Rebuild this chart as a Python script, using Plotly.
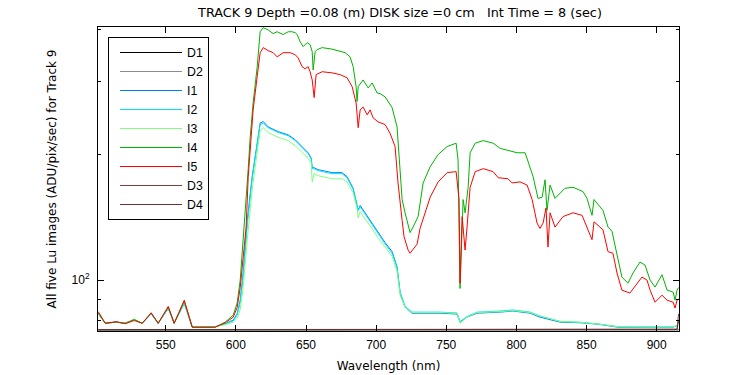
import math
import plotly.graph_objects as go

# ---------------- data ----------------
wl_dark = [501.9, 530, 560, 600, 640, 680, 720, 760, 800, 840, 880, 910, 914.5, 915.6]
D1 = [75.9, 75.9, 75.9, 75.9, 75.9, 75.9, 75.9, 75.9, 75.9, 75.9, 75.9, 75.9, 75.9, 76.0]
D2 = [76.0, 76.0, 76.0, 76.0, 76.0, 76.0, 76.0, 76.0, 76.0, 76.0, 76.0, 76.0, 76.0, 76.2]
D3 = [76.1, 76.1, 76.1, 76.1, 76.1, 76.1, 76.1, 76.1, 76.1, 76.1, 76.1, 76.1, 76.2, 83.0]
D4 = [76.1, 76.1, 76.1, 76.1, 76.1, 76.1, 76.1, 76.1, 76.1, 76.1, 76.1, 76.1, 76.2, 80.0]

wl_lo = [501.9, 506.9, 514.7, 521.1, 527.5, 533.2, 539.6, 544.6, 551.8, 556.0,
         563.2, 568.9, 585.2, 592.4, 598.1, 600.9, 603.1, 605.2, 608.1, 611.6,
         615.2, 617.3, 619.5, 623.0, 630.1, 637.3, 642.3, 647.2, 651.5, 653.7,
         654.4, 655.8, 658.6, 668.6, 675.7, 679.3, 683.6, 686.4, 687.2, 688.6,
         692.1, 697.1, 701.4, 706.4, 711.4, 714.9, 717.1, 720.6, 725.6, 734.9,
         745.6, 757.7, 759.8, 764.8, 772.0, 788.4, 797.6, 809.8, 816.8, 831.1,
         846.0, 858.0, 872.4, 900.0, 911.7, 915.2]
I1 = [83.0, 78.8, 79.3, 78.8, 80.4, 78.8, 83.0, 78.8, 85.5, 78.8,
      88.0, 77.1, 77.3, 78.6, 80.2, 83.0, 89.5, 104, 139, 177,
      213, 238, 240, 233, 227, 223, 217, 209, 202, 196,
      186, 186, 184, 181, 181, 177, 166, 151, 147, 151,
      145, 137, 130, 123, 117, 107.5, 93.1, 86.1, 83.3, 83.3,
      83.3, 82.9, 79.3, 81.5, 83.3, 83.8, 84.3, 83.3, 81.5, 79.3,
      79.0, 78.4, 77.1, 77.1, 77.1, 78.0]
I2 = [83.0, 78.8, 79.3, 78.8, 80.4, 78.8, 83.0, 78.8, 85.5, 78.8,
      88.0, 77.1, 77.3, 78.4, 79.8, 82.5, 88.5, 102, 136, 175,
      212, 236, 238, 232, 226, 222, 216, 208, 201, 195,
      185, 185, 183, 180, 180, 176, 165, 151, 147, 150,
      144, 136, 129, 122, 116, 107, 93.5, 86.5, 83.8, 83.8,
      83.8, 83.4, 79.5, 81.8, 83.8, 84.3, 84.8, 83.8, 82.0, 79.6,
      79.2, 78.5, 77.3, 77.2, 77.2, 78.0]
I3 = [83.0, 78.8, 79.3, 78.8, 80.6, 78.8, 83.2, 78.8, 85.8, 78.8,
      88.5, 77.1, 77.3, 78.2, 79.3, 81.0, 85.0, 96, 125, 165,
      203, 228, 232, 226, 220, 216, 210, 203, 196, 191,
      172, 180, 178, 175, 175, 172, 162, 148, 141, 146,
      140, 133, 126, 120, 114, 105, 92.0, 86.0, 83.6, 83.6,
      83.6, 83.2, 78.8, 81.6, 83.6, 84.0, 84.5, 83.6, 82.0, 79.6,
      79.2, 78.5, 77.3, 77.2, 77.2, 78.0]

wl_I4 = [501.9, 506.9, 514.7, 521.1, 527.5, 533.2, 539.6, 544.6, 551.8, 556.0,
         563.2, 568.9, 585.2, 592.4, 598.1, 600.9, 603.1, 605.2, 607.3, 608.8,
         610.2, 612.3, 615.2, 617.3, 619.5, 623.0, 626.6, 629.4, 633.7, 637.3,
         640.1, 642.3, 643.7, 645.8, 648.0, 650.8, 652.9, 654.4, 655.1, 656.5,
         657.9, 661.5, 668.6, 672.9, 677.9, 681.4, 683.6, 685.7, 686.4, 687.2,
         690.7, 694.3, 697.1, 700.7, 702.8, 706.4, 711.4, 714.9, 716.4, 718.5,
         720.6, 724.2, 726.3, 729.9, 733.5, 738.5, 744.2, 750.6, 757.0, 758.4,
         759.8, 761.3, 762.0, 763.4, 765.6, 767.0, 770.6, 776.3, 783.4, 788.4,
         794.0, 800.5, 806.2, 808.4, 811.9, 815.4, 818.3, 820.4, 821.8, 824.0,
         827.5, 834.6, 840.3, 847.5, 850.3, 853.9, 855.3, 861.7, 865.3, 868.1,
         871.7, 875.2, 879.5, 883.1, 888.1, 891.7, 895.3, 898.8, 903.8, 907.4,
         911.7, 913.1, 914.5, 915.6]
I4 = [83.3, 78.8, 79.3, 78.8, 80.4, 78.8, 83.3, 78.8, 86.1, 78.8,
      89.0, 77.1, 77.1, 79.3, 82.4, 88.1, 100, 125, 152, 185,
      220, 266, 325, 394, 403, 398, 390, 394, 388, 394,
      394, 392, 388, 373, 363, 371, 367, 353, 319, 353,
      357, 361, 358, 355, 351, 343, 325, 291, 268, 291,
      302, 289, 297, 281, 280, 275, 259, 233, 197, 156,
      145, 130, 134, 142, 171, 187, 200, 209, 213, 194,
      95.5, 125, 156, 145, 167, 202, 213, 216, 213, 207,
      205, 202, 202, 192, 177, 157, 158, 174, 147, 169,
      157, 166, 167, 163, 157, 143, 156, 147, 134, 131,
      114, 101.7, 98.3, 104, 110.5, 108.6, 100, 96.2, 103, 94.6,
      93.6, 89.5, 94.6, 96]

wl_I5 = [501.9, 506.9, 514.7, 521.1, 527.5, 533.2, 539.6, 544.6, 551.8, 556.0,
         563.2, 568.9, 585.2, 592.4, 598.1, 600.9, 603.1, 605.2, 607.3, 608.8,
         610.9, 612.3, 615.2, 617.3, 619.5, 623.0, 626.6, 629.4, 633.7, 638.7,
         642.3, 644.4, 647.2, 649.4, 651.5, 652.9, 654.4, 655.8, 657.2, 661.5,
         668.6, 674.3, 679.3, 682.9, 685.7, 687.2, 688.6, 690.7, 693.6, 695.7,
         697.8, 701.4, 706.4, 709.9, 713.5, 715.6, 718.5, 719.9, 722.8, 724.2,
         729.2, 731.3, 738.5, 744.2, 750.6, 757.0, 759.1, 759.8, 761.3, 763.4,
         764.8, 767.0, 770.6, 776.3, 783.4, 787.0, 794.0, 796.9, 802.6, 807.6,
         811.2, 814.7, 816.8, 819.0, 821.1, 822.5, 824.0, 827.5, 833.2, 840.3,
         846.8, 848.9, 853.9, 855.3, 861.7, 865.3, 868.8, 871.7, 875.2, 880.9,
         886.0, 889.5, 893.1, 895.3, 898.8, 903.8, 907.4, 911.7, 913.1, 914.5,
         915.6]
I5 = [84.0, 78.8, 79.5, 78.6, 80.0, 78.8, 83.5, 78.8, 86.5, 78.8,
      89.5, 77.1, 77.1, 79.0, 81.5, 86.0, 96, 112, 134, 177,
      220, 256, 308, 351, 361, 355, 351, 343, 351, 351,
      347, 341, 325, 321, 325, 316, 302, 274, 311, 316,
      314, 311, 305.5, 291, 266, 232, 256, 260, 249, 256,
      245, 239.5, 236, 225, 209, 171, 139, 127, 118, 116,
      122, 133, 158, 172, 181, 182, 156, 98.3, 142, 118,
      134, 167, 182, 185, 182, 176, 175, 171, 172, 169,
      156, 137, 133, 137, 149, 120, 145, 134, 142, 145,
      143, 137, 125, 138, 132, 117, 116, 104, 94.6, 93.1,
      98.3, 101.7, 100, 94.6, 88.5, 92.0, 89.5, 88.5, 85.7, 89.5,
      90]

x_ticks = [550, 600, 650, 700, 750, 800, 850, 900]
y_major = [100]
y_major_text = ["10<sup>2</sup>"]
y_minor = [80, 90, 200, 300, 400]

# ---------------- figure ----------------
series = [
    ("D1", wl_dark, D1, "#000000"),
    ("D2", wl_dark, D2, "#8c8c8c"),
    ("I1", wl_lo, I1, "#0080ff"),
    ("I2", wl_lo, I2, "#00e6f0"),
    ("I3", wl_lo, I3, "#80ff80"),
    ("I4", wl_I4, I4, "#00b400"),
    ("I5", wl_I5, I5, "#ff0000"),
    ("D3", wl_dark, D3, "#804040"),
    ("D4", wl_dark, D4, "#663333"),
]

fig = go.Figure()
for name, xs, ys, col in series:
    fig.add_trace(go.Scatter(x=xs, y=ys, mode="lines", name=name,
                             line=dict(color=col, width=1)))

SANS = "Liberation Sans, Arial, Helvetica, sans-serif"
WIDE = "DejaVu Sans, Verdana, sans-serif"
fig.update_layout(
    width=750, height=375,
    margin=dict(l=98, r=71, t=27, b=44, autoexpand=False),
    paper_bgcolor="white", plot_bgcolor="white",
    font=dict(family=SANS, size=12, color="black"),
    title=dict(text="TRACK 9 Depth =0.08 (m) DISK size =0 cm\u00a0\u00a0\u00a0Int Time = 8 (sec)",
               x=400 / 750, xref="container", xanchor="center",
               y=1 - 13 / 375, yref="container", yanchor="middle",
               font=dict(family=WIDE, size=12.8, color="black")),
    showlegend=True,
    legend=dict(x=(108 - 98) / 581, y=(331 - 37) / 304, xanchor="left", yanchor="top",
                bgcolor="white", bordercolor="black", borderwidth=1,
                font=dict(family=SANS, size=12.3, color="black"),
                itemwidth=62, indentation=6, tracegroupgap=0),
)
fig.update_xaxes(
    range=[501.7, 915.9], tickmode="array", tickvals=x_ticks,
    showline=True, linecolor="black", linewidth=1, mirror="ticks",
    ticks="inside", ticklen=6, tickcolor="black", tickwidth=1,
    ticklabelstandoff=3, automargin=False,
    showgrid=False, zeroline=False,
    title=dict(text="Wavelength (nm)", standoff=10, font=dict(family=WIDE, size=12)),
    tickfont=dict(family=SANS, size=12),
)
fig.update_yaxes(
    type="log", range=[math.log10(75.5), math.log10(404.5)],
    tickmode="array", tickvals=y_major, ticktext=y_major_text,
    showline=True, linecolor="black", linewidth=1, mirror="ticks",
    ticks="inside", ticklen=6, tickcolor="black", tickwidth=1,
    ticklabelstandoff=5, automargin=False,
    minor=dict(tickmode="array", tickvals=y_minor, ticks="inside", ticklen=3,
               tickcolor="black", showgrid=False),
    showgrid=False, zeroline=False,
    title=dict(text="All five Lu images (ADU/pix/sec) for Track 9", standoff=12,
               font=dict(family=WIDE, size=12)),
    tickfont=dict(family=SANS, size=12),
)

fig.write_html("out.html", config={"displayModeBar": False},
               post_script="document.body.style.margin='0px';")
